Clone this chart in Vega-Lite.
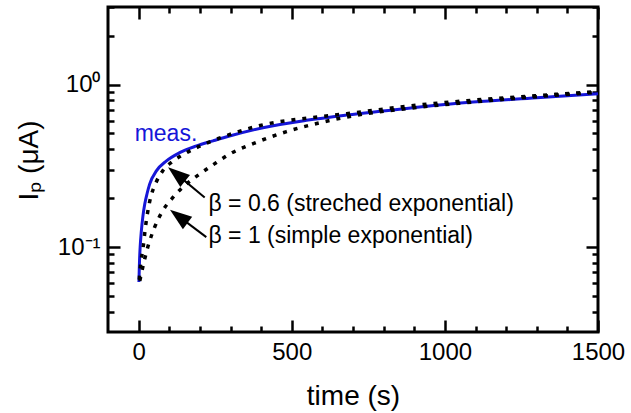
{
  "$schema": "https://vega.github.io/schema/vega-lite/v6.json",
  "autosize": {"type": "none"},
  "padding": {"left": 108, "top": 7, "right": 33, "bottom": 81},
  "width": 490,
  "height": 325,
  "config": {
    "view": {"stroke": "black", "strokeWidth": 3},
    "font": "Liberation Sans",
    "axis": {
      "domain": false,
      "grid": false,
      "tickColor": "black",
      "tickWidth": 2.5,
      "labelFont": "Liberation Sans",
      "labelFontSize": 24,
      "labelColor": "black",
      "labelOverlap": false,
      "labelBound": false,
      "labelFlush": false,
      "titleFont": "Liberation Sans",
      "titleFontWeight": "normal",
      "titleColor": "black"
    }
  },
  "datasets": {
    "curves": [
      {"series": "meas", "t": 1, "I": 0.061},
      {"series": "meas", "t": 2, "I": 0.072},
      {"series": "meas", "t": 3, "I": 0.083},
      {"series": "meas", "t": 5, "I": 0.1},
      {"series": "meas", "t": 9, "I": 0.126},
      {"series": "meas", "t": 14, "I": 0.155},
      {"series": "meas", "t": 20, "I": 0.184},
      {"series": "meas", "t": 28, "I": 0.215},
      {"series": "meas", "t": 36, "I": 0.244},
      {"series": "meas", "t": 58, "I": 0.294},
      {"series": "meas", "t": 91, "I": 0.339},
      {"series": "meas", "t": 134, "I": 0.381},
      {"series": "meas", "t": 189, "I": 0.419},
      {"series": "meas", "t": 243, "I": 0.45},
      {"series": "meas", "t": 297, "I": 0.482},
      {"series": "meas", "t": 406, "I": 0.542},
      {"series": "meas", "t": 548, "I": 0.602},
      {"series": "meas", "t": 679, "I": 0.649},
      {"series": "meas", "t": 875, "I": 0.713},
      {"series": "meas", "t": 1092, "I": 0.78},
      {"series": "meas", "t": 1300, "I": 0.828},
      {"series": "meas", "t": 1500, "I": 0.879},
      {"series": "b06", "t": 2, "I": 0.063},
      {"series": "b06", "t": 6, "I": 0.077},
      {"series": "b06", "t": 14, "I": 0.097},
      {"series": "b06", "t": 23, "I": 0.136},
      {"series": "b06", "t": 36, "I": 0.19},
      {"series": "b06", "t": 58, "I": 0.252},
      {"series": "b06", "t": 79, "I": 0.295},
      {"series": "b06", "t": 112, "I": 0.338},
      {"series": "b06", "t": 156, "I": 0.38},
      {"series": "b06", "t": 221, "I": 0.435},
      {"series": "b06", "t": 287, "I": 0.485},
      {"series": "b06", "t": 406, "I": 0.565},
      {"series": "b06", "t": 559, "I": 0.624},
      {"series": "b06", "t": 679, "I": 0.661},
      {"series": "b06", "t": 875, "I": 0.735},
      {"series": "b06", "t": 1092, "I": 0.801},
      {"series": "b06", "t": 1300, "I": 0.855},
      {"series": "b06", "t": 1500, "I": 0.905},
      {"series": "b1", "t": 4, "I": 0.062},
      {"series": "b1", "t": 9, "I": 0.0687},
      {"series": "b1", "t": 30, "I": 0.1},
      {"series": "b1", "t": 52, "I": 0.132},
      {"series": "b1", "t": 79, "I": 0.1675},
      {"series": "b1", "t": 112, "I": 0.202},
      {"series": "b1", "t": 156, "I": 0.244},
      {"series": "b1", "t": 199, "I": 0.281},
      {"series": "b1", "t": 254, "I": 0.331},
      {"series": "b1", "t": 297, "I": 0.373},
      {"series": "b1", "t": 374, "I": 0.433},
      {"series": "b1", "t": 483, "I": 0.513},
      {"series": "b1", "t": 592, "I": 0.582},
      {"series": "b1", "t": 679, "I": 0.631},
      {"series": "b1", "t": 875, "I": 0.711},
      {"series": "b1", "t": 1092, "I": 0.78},
      {"series": "b1", "t": 1300, "I": 0.842},
      {"series": "b1", "t": 1500, "I": 0.897}
    ],
    "arrows": [
      {"t": 215.7, "I": 0.202, "t2": 124, "I2": 0.281, "angle": 309},
      {"t": 221, "I": 0.115, "t2": 131, "I2": 0.1544, "angle": 307}
    ],
    "labels": [
      {"t": -13, "I": 0.45, "text": "meas.", "kind": "meas"},
      {"t": 228, "I": 0.166, "text": "β = 0.6 (streched exponential)", "kind": "fit"},
      {"t": 228, "I": 0.1057, "text": "β = 1 (simple exponential)", "kind": "fit"}
    ]
  },
  "layer": [
    {
      "data": {"name": "curves"},
      "transform": [{"filter": "datum.series == 'meas'"}],
      "mark": {"type": "line", "color": "#1616d8", "strokeWidth": 3, "interpolate": "monotone"},
      "encoding": {
        "x": {
          "field": "t", "type": "quantitative",
          "scale": {"domain": [-100, 1500], "nice": false, "zero": false},
          "axis": {
            "orient": "bottom",
            "format": "d",
            "values": [0, 100, 200, 300, 400, 500, 600, 700, 800, 900, 1000, 1100, 1200, 1300, 1400, 1500],
            "labelExpr": "datum.value % 500 == 0 ? datum.label : ''",
            "tickSize": {"condition": {"test": "datum.value % 500 == 0", "value": -12}, "value": -6},
            "labelPadding": 20,
            "title": "time (s)",
            "titleFontSize": 28,
            "titleFontWeight": "normal",
            "titlePadding": 12
          }
        },
        "y": {
          "field": "I", "type": "quantitative",
          "scale": {"type": "log", "domain": [0.03, 3], "nice": false},
          "axis": {
            "orient": "left",
            "values": [0.04, 0.05, 0.06, 0.07, 0.08, 0.09, 0.1, 0.2, 0.3, 0.4, 0.5, 0.6, 0.7, 0.8, 0.9, 1, 2, 3],
            "labelExpr": "datum.value == 1 ? '10⁰' : (datum.value == 0.1 ? '10⁻¹' : '')",
            "tickSize": {"condition": {"test": "datum.value == 1 || datum.value == 0.1", "value": -12}, "value": -6},
            "labelPadding": 20,
            "title": "Iₚ (μA)",
            "titleFontSize": 28,
            "titleFontWeight": "normal",
            "titlePadding": 14,
            "titleY": 153
          }
        }
      }
    },
    {
      "data": {"name": "curves"},
      "transform": [{"filter": "datum.series == 'b06'"}],
      "mark": {"type": "line", "color": "black", "strokeWidth": 3.5, "strokeDash": [4, 7], "interpolate": "monotone"},
      "encoding": {
        "x": {
          "field": "t", "type": "quantitative",
          "axis": {
            "orient": "top",
            "values": [0, 100, 200, 300, 400, 500, 600, 700, 800, 900, 1000, 1100, 1200, 1300, 1400, 1500],
            "labels": false,
            "tickSize": {"condition": {"test": "datum.value % 500 == 0", "value": -12}, "value": -6},
            "title": null
          }
        },
        "y": {
          "field": "I", "type": "quantitative",
          "axis": {
            "orient": "right",
            "values": [0.04, 0.05, 0.06, 0.07, 0.08, 0.09, 0.1, 0.2, 0.3, 0.4, 0.5, 0.6, 0.7, 0.8, 0.9, 1, 2, 3],
            "labels": false,
            "tickSize": {"condition": {"test": "datum.value == 1 || datum.value == 0.1", "value": -12}, "value": -6},
            "title": null
          }
        }
      }
    },
    {
      "data": {"name": "curves"},
      "transform": [{"filter": "datum.series == 'b1'"}],
      "mark": {"type": "line", "color": "black", "strokeWidth": 3.5, "strokeDash": [4, 7], "interpolate": "monotone"},
      "encoding": {
        "x": {"field": "t", "type": "quantitative", "axis": null},
        "y": {"field": "I", "type": "quantitative", "axis": null}
      }
    },
    {
      "data": {"name": "arrows"},
      "mark": {"type": "rule", "color": "black", "strokeWidth": 2},
      "encoding": {
        "x": {"field": "t", "type": "quantitative", "axis": null},
        "y": {"field": "I", "type": "quantitative", "axis": null},
        "x2": {"field": "t2"},
        "y2": {"field": "I2"}
      }
    },
    {
      "data": {"name": "arrows"},
      "mark": {"type": "point", "shape": "M-0.7,1L0.7,1L0,-1Z", "filled": true, "color": "black", "opacity": 1, "size": 484},
      "encoding": {
        "x": {"field": "t2", "type": "quantitative", "axis": null},
        "y": {"field": "I2", "type": "quantitative", "axis": null},
        "angle": {"field": "angle", "type": "quantitative", "scale": null}
      }
    },
    {
      "data": {"name": "labels"},
      "mark": {"type": "text", "align": "left", "baseline": "alphabetic", "fontSize": 23, "font": "Liberation Sans"},
      "encoding": {
        "x": {"field": "t", "type": "quantitative", "axis": null},
        "y": {"field": "I", "type": "quantitative", "axis": null},
        "text": {"field": "text"},
        "color": {"field": "kind", "type": "nominal", "scale": {"domain": ["meas", "fit"], "range": ["#1616d8", "black"]}, "legend": null}
      }
    }
  ],
  "resolve": {"axis": {"x": "independent", "y": "independent"}}
}
